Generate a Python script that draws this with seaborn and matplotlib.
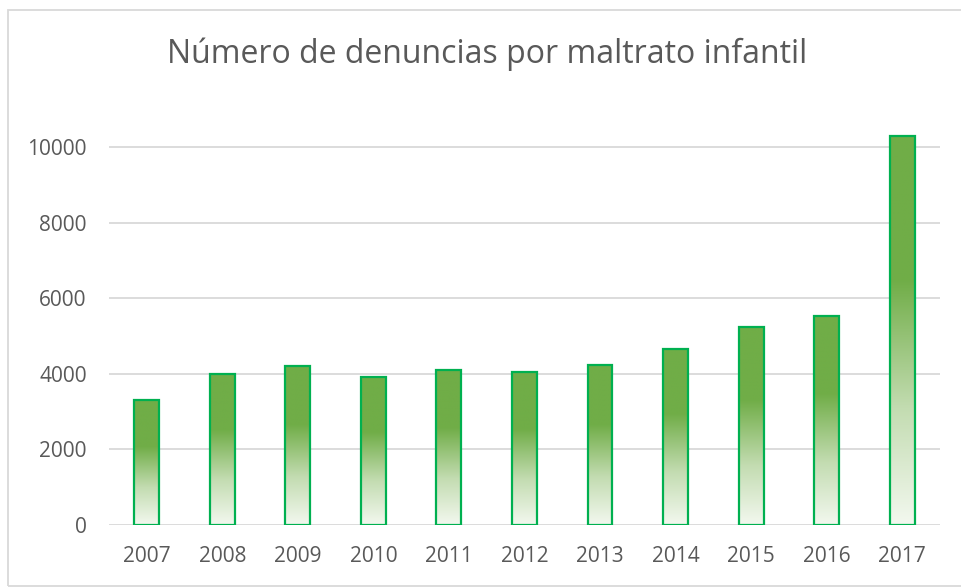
import numpy as np
import pandas as pd
import matplotlib
matplotlib.use("Agg")
import matplotlib.pyplot as plt
import seaborn as sns
from matplotlib.colors import LinearSegmentedColormap
from matplotlib.patches import Rectangle

# datos
anios = ['2007', '2008', '2009', '2010', '2011', '2012', '2013', '2014', '2015', '2016', '2017']
denuncias = [3300, 3995, 4210, 3915, 4100, 4040, 4230, 4665, 5245, 5520, 10280]

df = pd.DataFrame({'anio': anios, 'denuncias': denuncias})

sns.set_style("white")
plt.rcParams['font.family'] = ['Open Sans', 'DejaVu Sans']

gris = '#595959'
fig = plt.figure(figsize=(9.61, 5.88), dpi=100)
ax = fig.add_axes([0.1134, 0.1071, 0.8647, 0.675])

sns.barplot(data=df, x='anio', y='denuncias', width=0.33, ax=ax,
            facecolor='none', edgecolor='#00B050', linewidth=1.6, zorder=3)

ax.set_xlim(-0.5, 10.5)
ax.set_ylim(0, 10500)
ax.set_yticks(range(0, 10001, 2000))

# relleno degradado dentro de cada barra
cmap = LinearSegmentedColormap.from_list(
    'verde', [(0, '#F3F8EF'), (0.3, '#C3DCB1'), (0.63, '#70AD47'), (1, '#70AD47')])
grad = np.linspace(0, 1, 256).reshape(-1, 1)
for p in ax.patches:
    x0, y0 = p.get_x(), p.get_y()
    w, h = p.get_width(), p.get_height()
    im = ax.imshow(grad, cmap=cmap, origin='lower', aspect='auto',
                   extent=[x0, x0 + w, y0, y0 + h], zorder=2)
    im.set_clip_path(p)

ax.grid(axis='y', color='#D9D9D9', linewidth=1.3, zorder=0)
ax.grid(axis='x', visible=False)
for s in ax.spines.values():
    s.set_visible(False)

ax.tick_params(axis='both', length=0, labelsize=15, labelcolor=gris)
ax.tick_params(axis='x', pad=15)
ax.tick_params(axis='y', pad=16)
ax.set_xlabel('')
ax.set_ylabel('')

fig.text(0.507, 0.908, 'Número de denuncias por maltrato infantil',
         ha='center', va='center', fontsize=23, color=gris)

# marco exterior del grafico
fig.patches.append(Rectangle((8 / 961, 2 / 588), 1.0, 1 - 12 / 588,
                             transform=fig.transFigure, fill=False,
                             edgecolor='#D9D9D9', linewidth=1.3))

fig.savefig('out.png', dpi=100)
